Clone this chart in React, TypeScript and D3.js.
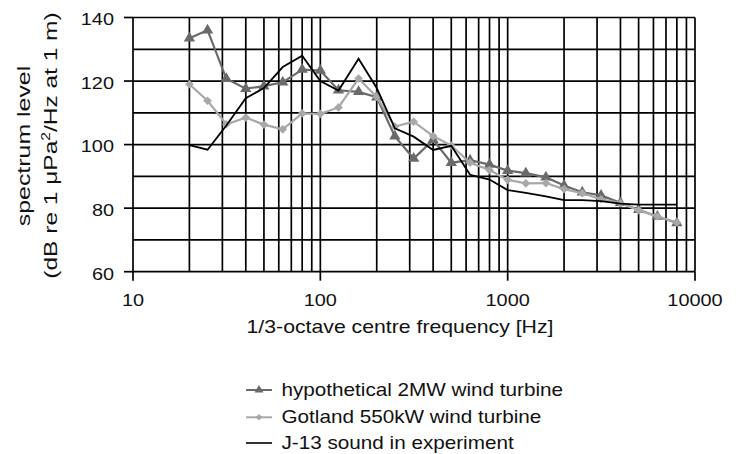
import React from 'react';
import * as d3 from 'd3';

const frequencies = [20, 25, 31.5, 40, 50, 63, 80, 100, 125, 160, 200, 250, 315, 400, 500, 630, 800, 1000, 1250, 1600, 2000, 2500, 3150, 4000, 5000, 6300, 8000];
const turbine2MW = [133.5, 136, 120.7, 117.6, 118.4, 119.6, 123.6, 123.3, 117.1, 116.6, 114.9, 102.6, 95.6, 101.5, 94.3, 95.1, 93.7, 91.8, 91, 89.7, 87.1, 85, 84, 81.7, 79.5, 77.4, 75.3];
const gotland550kW = [119, 113.8, 106.4, 108.5, 106.3, 104.8, 109.8, 109.7, 111.7, 120.8, 115, 105.7, 107.2, 102.7, 99.7, 94.3, 92, 88.9, 87.8, 87.9, 86, 84.7, 82.8, 81.6, 79.3, 77.4, 75.5];
const j13Sound = [99.8, 98.4, 106, 114.6, 117.8, 124.4, 128, 120, 117, 127, 117.8, 105.1, 102.5, 98.3, 99.6, 90.5, 89, 85.7, 84.8, 83.7, 82.5, 82.5, 82.2, 81.4, 81.1, 81.1, 81.1];
const yTickLabels = [60, 80, 100, 120, 140];
const xTickLabels = [10, 100, 1000, 10000];
const legendLabels = ['hypothetical 2MW wind turbine', 'Gotland 550kW wind turbine', 'J-13 sound in experiment'];

const FONT = '"Liberation Sans", Arial, sans-serif';
const C2MW = '#6a6a6a';
const CGOT = '#a8a8a8';

export default function App() {
  const W = 739, H = 454;
  const x = d3.scaleLog().domain([10, 10000]).range([133, 695]);
  const y = d3.scaleLinear().domain([60, 140]).range([271.7, 17.5]);
  const gridX = x.ticks();
  const gridY = y.ticks(8);
  const line = d3.line<[number, number]>().x(d => x(d[0])).y(d => y(d[1]));
  const s2 = frequencies.map((f, i) => [f, turbine2MW[i]] as [number, number]);
  const sg = frequencies.map((f, i) => [f, gotland550kW[i]] as [number, number]);
  const sj = frequencies.map((f, i) => [f, j13Sound[i]] as [number, number]);
  const tri = d3.symbol(d3.symbolTriangle, 55)()!;
  const triSmall = d3.symbol(d3.symbolTriangle, 34)()!;
  const dia = d3.symbol(d3.symbolSquare, 38)()!;
  const diaSmall = d3.symbol(d3.symbolSquare, 22)()!;
  const sx = 1.17;
  const legendY = [390, 417.3, 443];
  const gs = '#000';
  const gw = 1.7;

  return (
    <svg width={W} height={H} style={{ position: 'absolute', left: 0, top: 0, background: '#fff' }} fontFamily={FONT}>
      <rect x={0} y={0} width={W} height={H} fill="#fff" />
      {/* grid */}
      {gridY.map(v => (
        <line key={'gy' + v} x1={x(10)} x2={x(10000)} y1={y(v)} y2={y(v)} stroke={gs} strokeWidth={gw} />
      ))}
      {gridX.map(v => (
        <line key={'gx' + v} x1={x(v)} x2={x(v)} y1={y(140)} y2={y(60)} stroke={gs} strokeWidth={gw} />
      ))}
      {/* ticks */}
      {yTickLabels.map(v => (
        <line key={'yt' + v} x1={x(10) - 9} x2={x(10)} y1={y(v)} y2={y(v)} stroke={gs} strokeWidth={gw} />
      ))}
      {xTickLabels.map(v => (
        <line key={'xt' + v} x1={x(v)} x2={x(v)} y1={y(60)} y2={y(60) + 9} stroke={gs} strokeWidth={gw} />
      ))}
      {/* tick labels */}
      {yTickLabels.map(v => (
        <text key={'yl' + v} transform={`translate(${x(10) - 19},${y(v) + 7.8}) scale(${sx},1)`} textAnchor="end" fontSize={17} fill="#111">{v}</text>
      ))}
      {xTickLabels.map(v => (
        <text key={'xl' + v} transform={`translate(${x(v)},305.5) scale(${sx},1)`} textAnchor="middle" fontSize={17} fill="#111">{v}</text>
      ))}
      {/* axis titles */}
      <text transform={`translate(400,333) scale(1.2,1)`} textAnchor="middle" fontSize={17.7} fill="#111">1/3-octave centre frequency [Hz]</text>
      <text transform={`translate(30,146) rotate(-90) scale(1.31,1)`} textAnchor="middle" fontSize={19} fill="#111">spectrum level</text>
      <text transform={`translate(57,145.5) rotate(-90) scale(1.29,1)`} textAnchor="middle" fontSize={19} fill="#111">
        (dB re 1 μPa<tspan fontSize={12} dy={-7}>2</tspan><tspan dy={7}>/Hz at 1 m)</tspan>
      </text>
      {/* series */}
      <path d={line(s2)!} fill="none" stroke={C2MW} strokeWidth={2.2} />
      {s2.map((d, i) => (
        <path key={'m2' + i} d={tri} transform={`translate(${x(d[0])},${y(d[1])})`} fill={C2MW} />
      ))}
      <path d={line(sg)!} fill="none" stroke={CGOT} strokeWidth={2.2} />
      {sg.map((d, i) => (
        <path key={'mg' + i} d={dia} transform={`translate(${x(d[0])},${y(d[1])}) rotate(45)`} fill={CGOT} />
      ))}
      <path d={line(sj)!} fill="none" stroke="#000" strokeWidth={1.8} />
      {/* legend */}
      <line x1={246} x2={272} y1={legendY[0]} y2={legendY[0]} stroke={C2MW} strokeWidth={2} />
      <path d={triSmall} transform={`translate(259,${legendY[0]})`} fill={C2MW} />
      <line x1={246} x2={272} y1={legendY[1]} y2={legendY[1]} stroke={CGOT} strokeWidth={2} />
      <path d={diaSmall} transform={`translate(259,${legendY[1]}) rotate(45)`} fill={CGOT} />
      <line x1={246} x2={272} y1={legendY[2]} y2={legendY[2]} stroke="#000" strokeWidth={1.6} />
      {legendLabels.map((t, i) => (
        <text key={'lg' + i} transform={`translate(281.5,${legendY[i] + 5.8}) scale(1.15,1)`} fontSize={18} fill="#111">{t}</text>
      ))}
    </svg>
  );
}
